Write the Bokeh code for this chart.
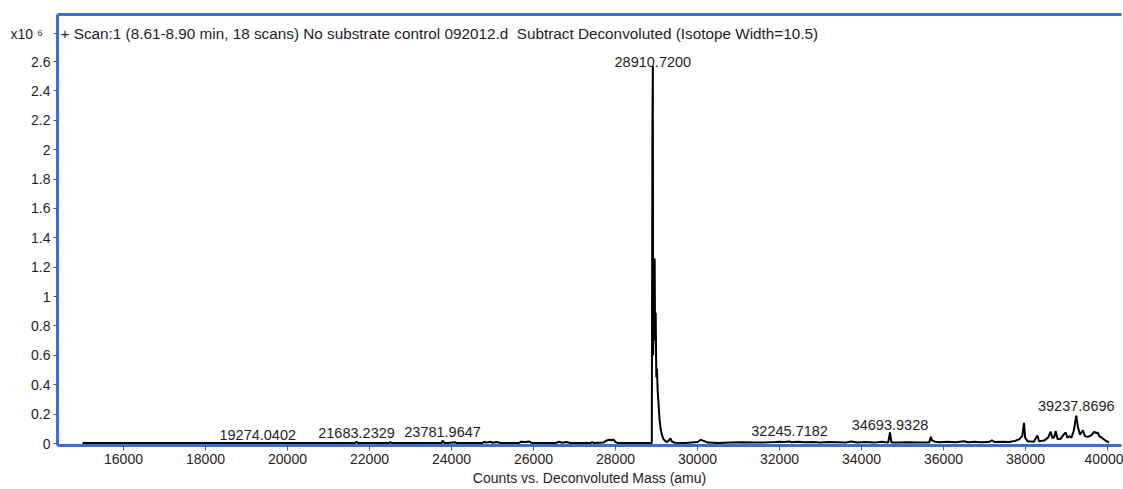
from bokeh.plotting import figure
from bokeh.models import Range1d, FixedTicker, CustomJSTickFormatter, Label, LinearAxis, ColumnDataSource
from bokeh.core.properties import value
from bokeh.embed import file_html
from bokeh.resources import INLINE

# ---- data (mass in amu, counts in units of 10^6) ----
mass = [15000, 16000, 17000, 18000, 19000, 19274, 20000, 21000, 21650, 21683, 21720,
        22480, 22507, 22540, 23500, 23760, 23781, 23800, 23830, 23900, 24100, 24130,
        24750, 24800, 24850, 24950, 25000, 25100, 25200, 25650, 25700, 25800, 25900, 25950,
        26550, 26620, 26700, 26800, 26900, 27400, 27430, 27470, 27700, 27780, 27850, 27900,
        27950, 28000, 28050, 28300, 28700, 28885, 28900, 28910.72, 28918, 28935, 28955,
        28965, 28980, 28995, 29010, 29030, 29050, 29075, 29100, 29130, 29170, 29220, 29260,
        29300, 29340, 29380, 29450, 29700, 30000, 30080, 30150, 30250, 30500, 30800, 31100,
        31400, 31700, 31900, 32000, 32100, 32245, 32300, 32450, 32600, 32800, 33000, 33200,
        33400, 33600, 33750, 33900, 34100, 34300, 34500, 34650, 34694, 34730, 34900, 35100,
        35400, 35650, 35690, 35720, 35800, 35900, 36100, 36300, 36500, 36600, 36750, 36900,
        37100, 37180, 37250, 37450, 37600, 37750, 37850, 37920, 37963, 37990, 38050, 38200,
        38290, 38330, 38450, 38550, 38614, 38660, 38700, 38736, 38780, 38850, 38930, 38980,
        39020, 39063, 39120, 39180, 39237.87, 39280, 39330, 39400, 39450, 39520, 39600,
        39680, 39720, 39760, 39800, 39880, 39950, 40040]
counts = [0.003, 0.003, 0.003, 0.003, 0.003, 0.004, 0.003, 0.003, 0.003, 0.012, 0.003,
          0.003, 0.010, 0.003, 0.003, 0.004, 0.020, 0.012, 0.004, 0.003, 0.008, 0.003,
          0.003, 0.012, 0.006, 0.012, 0.005, 0.010, 0.004, 0.004, 0.012, 0.010, 0.013, 0.004,
          0.004, 0.012, 0.005, 0.010, 0.004, 0.004, 0.010, 0.004, 0.006, 0.020, 0.025, 0.022,
          0.027, 0.010, 0.004, 0.004, 0.004, 0.004, 2.20, 2.57, 0.60, 0.90, 1.26,
          0.70, 0.89, 0.45, 0.51, 0.35, 0.27, 0.16, 0.10, 0.06, 0.03, 0.015, 0.010,
          0.020, 0.035, 0.012, 0.005, 0.004, 0.010, 0.025, 0.018, 0.006, 0.004, 0.006, 0.008,
          0.006, 0.008, 0.010, 0.012, 0.010, 0.014, 0.009, 0.012, 0.008, 0.010, 0.007, 0.010,
          0.008, 0.006, 0.014, 0.007, 0.010, 0.006, 0.012, 0.006, 0.075, 0.006, 0.006, 0.008,
          0.006, 0.006, 0.045, 0.020, 0.012, 0.008, 0.012, 0.008, 0.015, 0.008, 0.012, 0.008,
          0.010, 0.022, 0.010, 0.012, 0.010, 0.018, 0.030, 0.050, 0.140, 0.040, 0.015, 0.012,
          0.055, 0.015, 0.020, 0.040, 0.080, 0.035, 0.045, 0.085, 0.030, 0.030, 0.060, 0.075,
          0.040, 0.050, 0.040, 0.090, 0.190, 0.110, 0.060, 0.090, 0.050, 0.045, 0.055,
          0.080, 0.070, 0.075, 0.050, 0.035, 0.020, 0.008]

peak_mass = [19274.0402, 21683.2329, 23781.9647, 28910.7200, 32245.7182, 34693.9328, 39237.8696]
peak_label_y = [0.027, 0.036, 0.043, 2.56, 0.051, 0.095, 0.224]
peak_text = ["%.4f" % m for m in peak_mass]

x_ticks = [16000, 18000, 20000, 22000, 24000, 26000, 28000, 30000, 32000, 34000, 36000, 38000, 40000]
y_ticks = [0, 0.2, 0.4, 0.6, 0.8, 1.0, 1.2, 1.4, 1.6, 1.8, 2.0, 2.2, 2.4, 2.6]
exponent_label = "x10 \u2076\u00a0\u00a0"
exponent_level = 2.79   # height (in 10^6 counts) at which the scale factor is written

title_text = "+ Scan:1 (8.61-8.90 min, 18 scans) No substrate control 092012.d\u00a0\u00a0Subtract Deconvoluted (Isotope Width=10.5)"
x_label = "Counts vs. Deconvoluted Mass (amu)"

FONT = "Liberation Sans"
BLUE = "#3b6fd4"
TXT = "#1e1e1e"

p = figure(width=1123, height=489, output_backend="svg", toolbar_location=None,
           x_range=Range1d(14390, 40341), y_range=Range1d(-0.0136, 2.92),
           min_border_left=57, min_border_right=2, min_border_top=14, min_border_bottom=44,
           x_axis_location=None, y_axis_location=None)
p.outline_line_color = None
p.grid.visible = False
p.background_fill_color = "white"
p.border_fill_color = "white"

# axes
xa = LinearAxis(ticker=FixedTicker(ticks=x_ticks), axis_label=x_label)
ya = LinearAxis(ticker=FixedTicker(ticks=y_ticks + [exponent_level]),
                formatter=CustomJSTickFormatter(
                    args=dict(lvl=exponent_level, lab=exponent_label),
                    code="if (Math.abs(tick - lvl) < 1e-6) { return lab }; return String(Math.round(tick*10)/10)"))
ta = LinearAxis(ticker=FixedTicker(ticks=[]))
for ax in (xa, ya, ta):
    ax.axis_line_color = BLUE
    ax.axis_line_width = 3
    ax.major_tick_line_color = "#555555"
    ax.major_tick_in = 0
    ax.major_tick_out = 5
    ax.minor_tick_line_color = None
    ax.major_label_text_font = FONT
    ax.major_label_text_font_size = "14px"
    ax.major_label_text_color = TXT
    ax.axis_label_text_font = FONT
    ax.axis_label_text_font_size = "14px"
    ax.axis_label_text_font_style = "normal"
    ax.axis_label_text_color = TXT
    ax.major_label_standoff = 3
    ax.axis_label_standoff = 3
ya.major_tick_out = 4
ta.major_label_text_font_size = "0px"
ta.major_tick_out = 0
ta.major_label_standoff = 0
p.add_layout(xa, "below")
p.add_layout(ya, "left")
p.add_layout(ta, "above")

# spectrum
p.line(mass, counts, line_color="black", line_width=2)

# peak labels
src = ColumnDataSource(dict(x=peak_mass, y=peak_label_y, t=peak_text))
p.text(x="x", y="y", text="t", source=src, text_align="center", text_baseline="alphabetic",
       y_offset=-5, text_font=value(FONT), text_font_size="14.5px", text_color=TXT)

# title inside the frame
p.add_layout(Label(x=3, y=412, x_units="screen", y_units="screen", text=title_text,
                   text_font=FONT, text_font_size="15.3px", text_color=TXT,
                   text_baseline="alphabetic"))

open("out.html", "w").write(file_html(p, INLINE))
